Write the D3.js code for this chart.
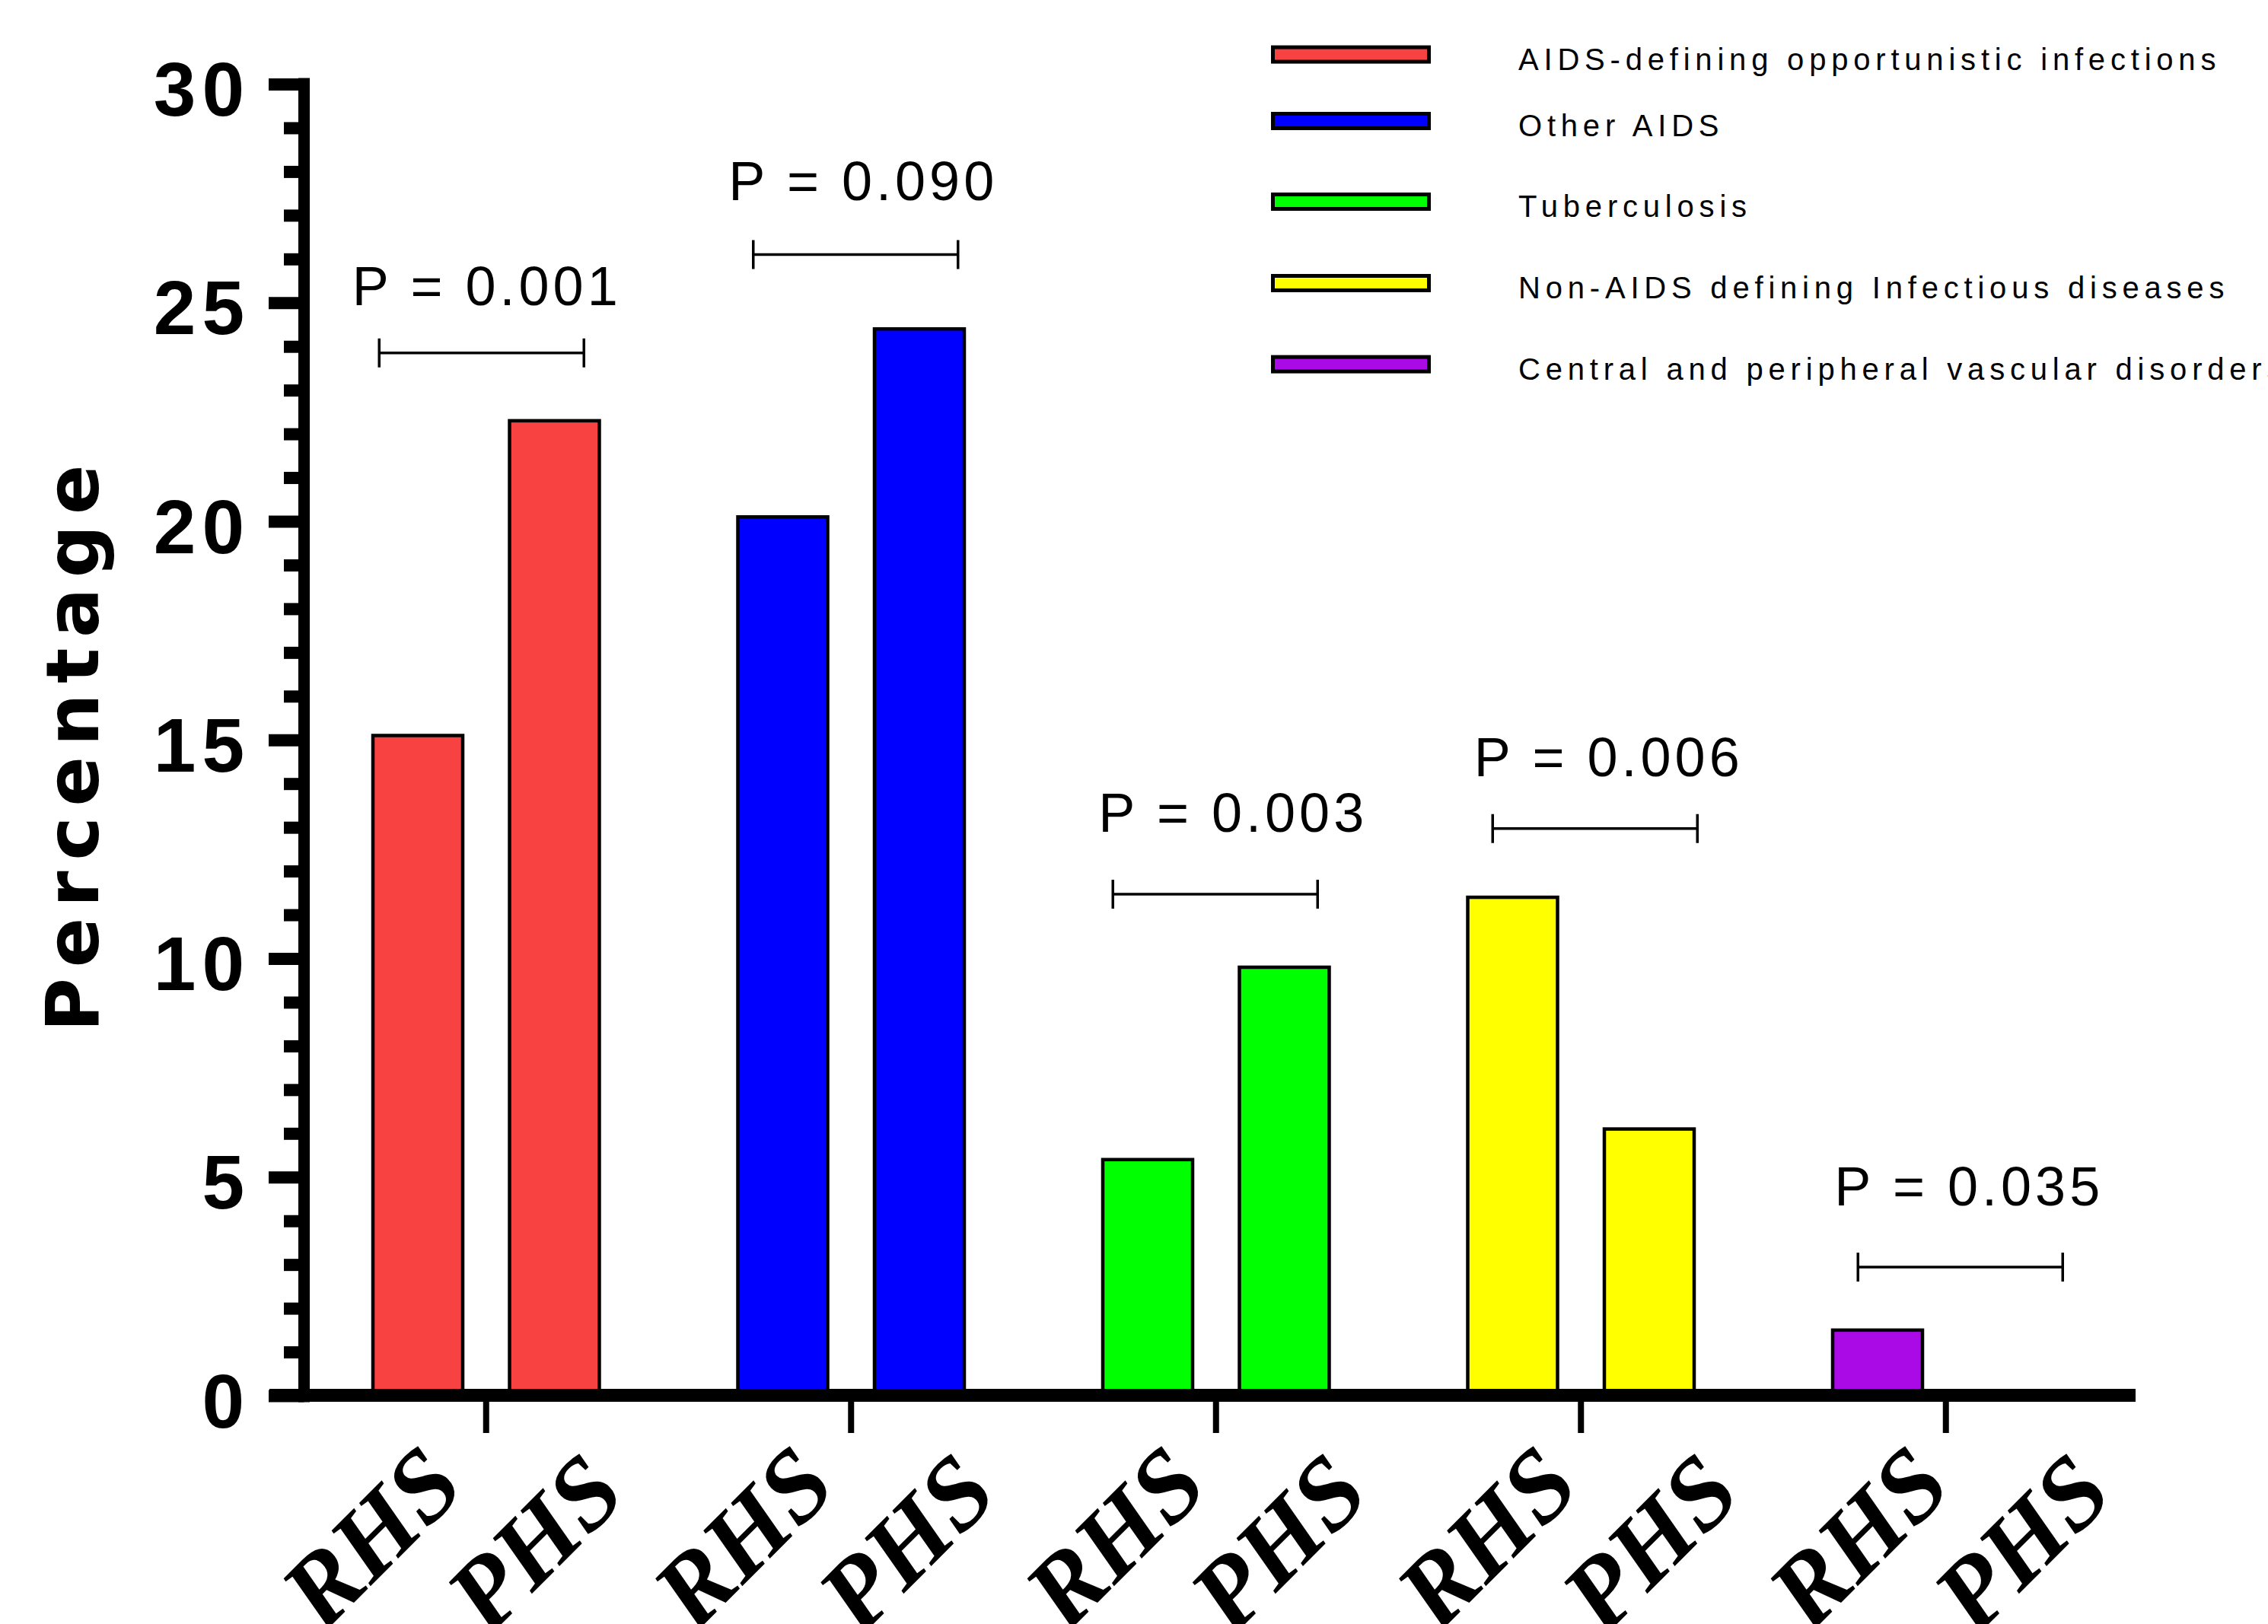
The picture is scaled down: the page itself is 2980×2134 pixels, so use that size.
<!DOCTYPE html>
<html>
<head>
<meta charset="utf-8">
<script src="https://cdn.jsdelivr.net/npm/d3@7"></script>
<style>
html,body{margin:0;padding:0;background:#fff;overflow:hidden}
svg{display:block}
</style>
</head>
<body>
<svg id="chart" width="2980" height="2134"></svg>
<script>
// ---------------- data ----------------
const categories = [
  "AIDS-defining opportunistic infections",
  "Other AIDS",
  "Tuberculosis",
  "Non-AIDS defining Infectious diseases",
  "Central and peripheral vascular disorders"
];
const subgroups = ["RHS", "PHS"];
const rhsValues = [15.1, 20.1, 5.4, 11.4, 1.5];
const phsValues = [22.3, 24.4, 9.8, 6.1, 0];
const colors = ["#F84141", "#0000FF", "#00FF00", "#FFFF00", "#A90AE5"];
const pLabels = ["P = 0.001", "P = 0.090", "P = 0.003", "P = 0.006", "P = 0.035"];
const bracketLevels = [23.85, 26.1, 11.47, 12.97, 2.94];   // y value of each bracket
const pLabelLevels = [24.95, 27.35, 12.9, 14.17, 4.35];    // y value of each P label baseline
const yMajorTicks = [0, 5, 10, 15, 20, 25, 30];
const yMinorTicks = [1,2,3,4,6,7,8,9,11,12,13,14,16,17,18,19,21,22,23,24,26,27,28,29];
const yTitle = "Percentage";

// ---------------- layout ----------------
const bracketShift = [-6, 6, -1, 18.5, 19];
const pLabelShift = [-176, -161, -154.5, -140.5, -146.5];
const legendRows = [71.6, 159, 265, 372, 478.6];
const labelAnchor = {RHS: {dx: -39, y: 1957}, PHS: {dx: 173, y: 1967}};

const svg = d3.select("#chart");
svg.append("rect").attr("width", 2980).attr("height", 2134).attr("fill", "#fff");

const y = d3.scaleLinear().domain([0, 30]).range([1834, 110.5]);
const x0 = d3.scaleBand().domain(categories).range([399, 2796.5]);
const x1 = d3.scaleBand().domain(subgroups).range([-148.75, 148.75]).paddingInner(0.3426);
const xLab = d3.scaleBand().domain(categories).range([408.75, 2851.25]); // category labels are spread slightly wider than the bars
const cx = c => x0(c) + x0.bandwidth() / 2;

const rows = categories.map((c, i) => ({
  cat: c, i, color: colors[i],
  vals: [{k: "RHS", v: rhsValues[i]}, {k: "PHS", v: phsValues[i]}]
}));

// ---------------- bars ----------------
const gBars = svg.append("g");
rows.forEach(r => {
  gBars.selectAll(null).data(r.vals).join("rect")
    .attr("x", d => cx(r.cat) + x1(d.k))
    .attr("width", x1.bandwidth())
    .attr("y", d => y(d.v))
    .attr("height", d => y(0) - y(d.v))
    .attr("fill", r.color)
    .attr("stroke", "#000")
    .attr("stroke-width", 4.5);
});

// ---------------- y axis ----------------
const axisX = 399.5;
const gMinor = svg.append("g").attr("transform", `translate(${axisX},0)`)
  .call(d3.axisLeft(y).tickValues(yMinorTicks).tickSize(26.5).tickFormat(""));
gMinor.select(".domain").remove();
gMinor.selectAll(".tick line").attr("stroke", "#000").attr("stroke-width", 16);

const gMajor = svg.append("g").attr("transform", `translate(${axisX},0)`)
  .call(d3.axisLeft(y).tickValues(yMajorTicks).tickSize(46.5).tickPadding(24).tickFormat(d3.format("d")));
gMajor.select(".domain").remove();
gMajor.selectAll(".tick line").attr("stroke", "#000").attr("stroke-width", 16);
gMajor.selectAll(".tick text")
  .attr("fill", "#000")
  .attr("dy", 41)
  .style("font-family", "'Liberation Sans', Arial, sans-serif")
  .style("font-weight", "bold")
  .style("font-size", "100px")
  .style("letter-spacing", "8px");

svg.append("line")
  .attr("x1", axisX).attr("x2", axisX)
  .attr("y1", y(30) - 8).attr("y2", y(0) + 8.5)
  .attr("stroke", "#000").attr("stroke-width", 15);

// ---------------- x axis ----------------
const gX = svg.append("g").attr("transform", `translate(0,1833.5)`)
  .call(d3.axisBottom(x0).tickSize(49.5).tickFormat(""));
gX.select(".domain").remove();
gX.selectAll(".tick line").attr("stroke", "#000").attr("stroke-width", 8);

svg.append("line")
  .attr("x1", 354).attr("x2", 2806)
  .attr("y1", 1833.5).attr("y2", 1833.5)
  .attr("stroke", "#000").attr("stroke-width", 17);

// x labels (rotated)
const gXL = svg.append("g");
rows.forEach(r => {
  const lc = xLab(r.cat) + xLab.bandwidth() / 2;
  gXL.selectAll(null).data(r.vals).join("text")
    .attr("transform", d => `translate(${lc + labelAnchor[d.k].dx},${labelAnchor[d.k].y}) rotate(-45)`)
    .attr("text-anchor", "end")
    .style("font-family", "'Liberation Serif', 'Times New Roman', serif")
    .style("font-weight", "bold")
    .style("font-style", "italic")
    .style("font-size", "134px")
    .attr("fill", "#000")
    .text(d => d.k);
});

// ---------------- y title ----------------
svg.append("text")
  .attr("transform", "translate(129,976.5) rotate(-90)")
  .attr("text-anchor", "middle")
  .style("font-family", "'DejaVu Sans', Verdana, sans-serif")
  .style("font-weight", "bold")
  .style("font-size", "97px")
  .style("letter-spacing", "13.5px")
  .attr("fill", "#000")
  .text(yTitle);

// ---------------- significance brackets ----------------
const gBr = svg.append("g").attr("stroke", "#000").attr("stroke-width", 3.5).attr("fill", "none");
rows.forEach(r => {
  const c = cx(r.cat) + bracketShift[r.i];
  const by = y(bracketLevels[r.i]);
  const hw = 134.5, ch = 19;
  gBr.append("path")
    .attr("d", `M${c - hw},${by - ch}V${by + ch}M${c - hw},${by}H${c + hw}M${c + hw},${by - ch}V${by + ch}`);
  svg.append("text")
    .attr("x", cx(r.cat) + pLabelShift[r.i])
    .attr("y", y(pLabelLevels[r.i]))
    .style("font-family", "'Liberation Sans', Arial, sans-serif")
    .style("font-size", "72px")
    .style("letter-spacing", "5px")
    .attr("fill", "#000")
    .text(pLabels[r.i]);
});

// ---------------- legend ----------------
const gLeg = svg.append("g");
categories.forEach((c, i) => {
  gLeg.append("rect")
    .attr("x", 1672.5).attr("y", legendRows[i] - 9.5)
    .attr("width", 205).attr("height", 19)
    .attr("fill", colors[i]).attr("stroke", "#000").attr("stroke-width", 5);
  gLeg.append("text")
    .attr("x", 1995).attr("y", legendRows[i] + 20)
    .style("font-family", "'Liberation Sans', Arial, sans-serif")
    .style("font-size", "40px")
    .style("letter-spacing", "6.8px")
    .attr("fill", "#000")
    .text(c);
});
</script>
</body>
</html>
